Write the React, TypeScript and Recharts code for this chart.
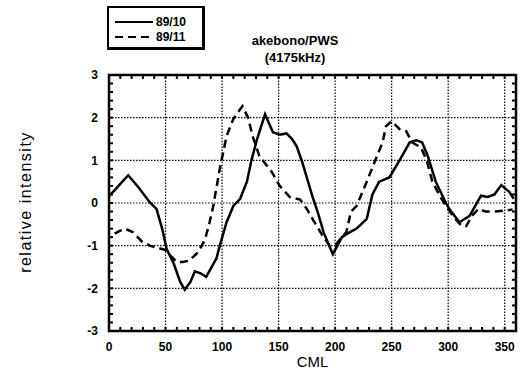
import { Label, Legend, Line, LineChart, ReferenceArea, XAxis, YAxis } from 'recharts'

// 89/10 (solid)
const cml10 = [0, 5, 10, 17, 26, 36, 42, 47, 51, 57, 63, 67, 72, 76, 81, 86, 95, 98, 104, 110, 116, 122, 126, 131, 138, 145, 151, 157, 162, 166, 171, 180, 185, 190, 198, 206, 212, 219, 228, 233, 239, 248, 257, 266, 272, 277, 282, 289, 298, 301, 310, 319, 329, 335, 341, 347, 354, 358]
const val10 = [0.16, 0.3, 0.45, 0.65, 0.37, 0.02, -0.14, -0.6, -1.08, -1.4, -1.85, -2.03, -1.85, -1.6, -1.65, -1.73, -1.3, -1.0, -0.45, -0.07, 0.1, 0.5, 1.0, 1.5, 2.08, 1.66, 1.6, 1.63, 1.5, 1.33, 0.95, 0.15, -0.25, -0.7, -1.2, -0.8, -0.7, -0.6, -0.37, 0.2, 0.5, 0.6, 1.0, 1.42, 1.47, 1.42, 1.1, 0.5, 0.0, -0.14, -0.45, -0.3, 0.17, 0.14, 0.2, 0.42, 0.26, 0.1]

// 89/11 (dashed)
const cml11 = [5, 10, 14, 21, 29, 36, 43, 50, 55, 60, 65, 71, 79, 85, 89, 92, 98, 104, 110, 118, 123, 127, 133, 144, 151, 160, 169, 175, 180, 189, 195, 201, 210, 214, 219, 228, 236, 242, 245, 250, 257, 263, 268, 276, 281, 286, 294, 304, 312, 316, 321, 327, 333, 342, 350, 357]
const val11 = [-0.72, -0.65, -0.6, -0.68, -0.9, -1.0, -1.05, -1.1, -1.25, -1.38, -1.38, -1.35, -1.15, -0.85, -0.45, -0.1, 0.8, 1.57, 1.97, 2.27, 2.0, 1.57, 1.1, 0.73, 0.4, 0.14, 0.08, -0.14, -0.37, -0.77, -1.0, -0.96, -0.68, -0.2, -0.07, 0.5, 1.03, 1.42, 1.8, 1.92, 1.73, 1.68, 1.42, 1.3, 1.0, 0.5, 0.1, -0.3, -0.54, -0.54, -0.3, -0.14, -0.2, -0.2, -0.18, -0.15]

// ticks every 10 deg / 0.2 units; labels and grid only on the major ones
const xTicks = [0, 10, 20, 30, 40, 50, 60, 70, 80, 90, 100, 110, 120, 130, 140, 150, 160, 170, 180, 190, 200, 210, 220, 230, 240, 250, 260, 270, 280, 290, 300, 310, 320, 330, 340, 350, 360]
const yTicks = [-3, -2.8, -2.6, -2.4, -2.2, -2, -1.8, -1.6, -1.4, -1.2, -1, -0.8, -0.6, -0.4, -0.2, 0, 0.2, 0.4, 0.6, 0.8, 1, 1.2, 1.4, 1.6, 1.8, 2, 2.2, 2.4, 2.6, 2.8, 3]

const data10 = cml10.map((c, i) => ({ cml: c, v: val10[i] }))
const data11 = cml11.map((c, i) => ({ cml: c, v: val11[i] }))

const W = 527
const H = 370
const M = { top: 75, right: 11, bottom: 0, left: 0 }
const X_AXIS_H = 39
const Y_AXIS_W = 109
const PLOT_W = W - M.left - M.right - Y_AXIS_W
const PLOT_H = H - M.top - M.bottom - X_AXIS_H
const GAP = 11
const MINOR = 4

const font = '"Liberation Sans", Arial, sans-serif'

// tick = label + inner minor marks on both edges + dotted grid line for majors
function XTick(props: any) {
  const { x, y, payload } = props
  const v = payload.value as number
  const base = y - GAP
  const major = v % 50 === 0
  return (
    <g>
      <path d={`M${x},${base}V${base - MINOR}`} stroke="#000" strokeWidth={2} fill="none" />
      <path d={`M${x},${base - PLOT_H}V${base - PLOT_H + MINOR}`} stroke="#000" strokeWidth={2} fill="none" />
      {major && v > 0 && (
        <path d={`M${x},${base}V${base - PLOT_H}`} stroke="#000" strokeWidth={1.2} strokeDasharray="1.5 1.5" fill="none" />
      )}
      {major && v < 360 && (
        <text x={x} y={y} dy="0.75em" textAnchor="middle" fontFamily={font} fontWeight={700} fontSize={12} fill="#000">
          {v}
        </text>
      )}
    </g>
  )
}

function YTick(props: any) {
  const { x, y, payload } = props
  const v = payload.value as number
  const base = x + GAP
  const major = Math.abs(v - Math.round(v)) < 1e-6
  return (
    <g>
      <path d={`M${base},${y}H${base + MINOR}`} stroke="#000" strokeWidth={2} fill="none" />
      <path d={`M${base + PLOT_W},${y}H${base + PLOT_W - MINOR}`} stroke="#000" strokeWidth={2} fill="none" />
      {major && Math.abs(v) < 3 && (
        <path d={`M${base},${y}H${base + PLOT_W}`} stroke="#000" strokeWidth={1.2} strokeDasharray="1.5 1.5" fill="none" />
      )}
      {major && (
        <text x={x} y={y} dy="0.35em" textAnchor="end" fontFamily={font} fontWeight={700} fontSize={12} fill="#000">
          {Math.round(v)}
        </text>
      )}
    </g>
  )
}

function LegendBox() {
  const row = (dash: string | undefined, label: string) => (
    <div style={{ display: 'flex', alignItems: 'center', height: 15 }}>
      <svg width={40} height={6}>
        <line x1={0} y1={3} x2={38} y2={3} stroke="#000" strokeWidth={2} strokeDasharray={dash} />
      </svg>
      <span style={{ marginLeft: 1 }}>{label}</span>
    </div>
  )
  return (
    <div
      style={{
        border: '2px solid #000',
        borderRightWidth: 3,
        borderBottomWidth: 3,
        width: 98,
        height: 44,
        padding: '6px 0 0 6px',
        fontFamily: font,
        fontWeight: 700,
        fontSize: 12,
        boxSizing: 'border-box',
        background: '#fff',
      }}
    >
      {row(undefined, '89/10')}
      {row('8 5', '89/11')}
    </div>
  )
}

export default function App() {
  return (
    <div style={{ position: 'absolute', left: 0, top: 0, width: W, height: H }}>
      <LineChart width={W} height={H} margin={M}>
        <XAxis
          dataKey="cml"
          type="number"
          domain={[0, 360]}
          ticks={xTicks}
          interval={0}
          height={X_AXIS_H}
          tickSize={0}
          tickMargin={GAP}
          tickLine={false}
          axisLine={false}
          tick={<XTick />}
        >
          <Label value="CML" position="insideBottom" offset={3} style={{ fontSize: 15, fill: '#000', fontFamily: font }} />
        </XAxis>
        <YAxis
          type="number"
          domain={[-3, 3]}
          ticks={yTicks}
          interval={0}
          width={Y_AXIS_W}
          tickSize={0}
          tickMargin={GAP}
          tickLine={false}
          axisLine={false}
          tick={<YTick />}
        />
        <ReferenceArea x1={0} x2={360} y1={-3} y2={3} fill="none" fillOpacity={0} stroke="#000" strokeWidth={2.5} ifOverflow="visible" />
        <Legend
          layout="horizontal"
          verticalAlign="middle"
          align="center"
          content={() => <LegendBox />}
          wrapperStyle={{ position: 'absolute', left: 107, top: 6, width: 'auto', height: 'auto' }}
        />
        <Line data={data10} dataKey="v" name="89/10" stroke="#000" strokeWidth={2.5} dot={false} isAnimationActive={false} type="linear" />
        <Line
          data={data11}
          dataKey="v"
          name="89/11"
          stroke="#000"
          strokeWidth={2.5}
          strokeDasharray="8 5"
          dot={false}
          isAnimationActive={false}
          type="linear"
        />
      </LineChart>
      <div style={{ position: 'absolute', left: 195, top: 32, width: 200, textAlign: 'center', fontFamily: font, fontWeight: 700, fontSize: 13, lineHeight: '17px' }}>
        akebono/PWS
        <br />
        (4175kHz)
      </div>
      <div
        style={{
          position: 'absolute',
          left: 26,
          top: 202,
          transform: 'translate(-50%, -50%) rotate(-90deg)',
          whiteSpace: 'nowrap',
          fontFamily: font,
          fontSize: 16,
          letterSpacing: 1.5,
        }}
      >
        relative intensity
      </div>
    </div>
  )
}
